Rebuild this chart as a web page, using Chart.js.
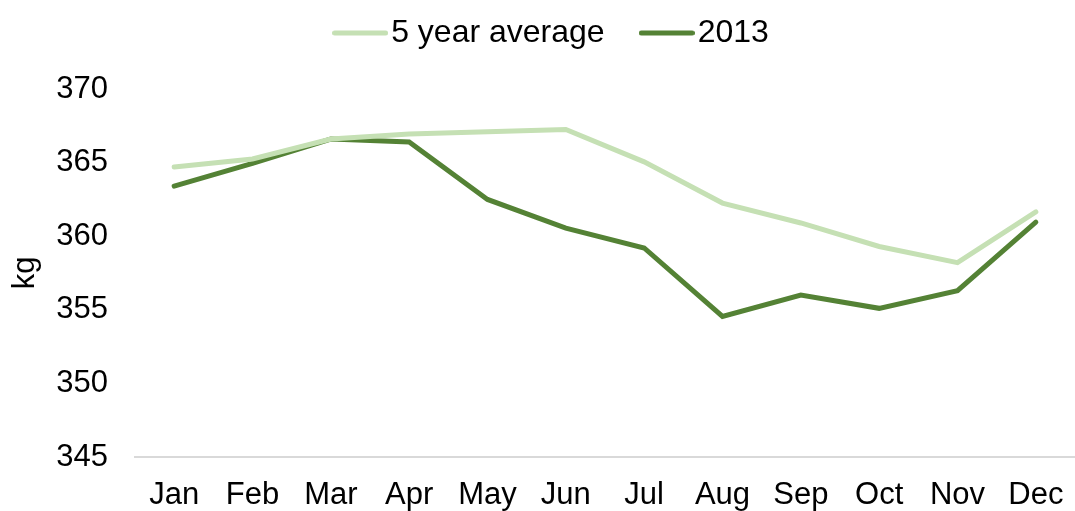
<!DOCTYPE html>
<html>
<head>
<meta charset="utf-8">
<script src="https://cdn.jsdelivr.net/npm/chart.js@4/dist/chart.umd.min.js"></script>
<style>
  html, body { margin: 0; padding: 0; background: #fff; }
  #wrap { width: 1075px; height: 511px; }
</style>
</head>
<body>
<div id="wrap"><canvas id="myChart"></canvas></div>
<script>
// values
const months = ['Jan', 'Feb', 'Mar', 'Apr', 'May', 'Jun', 'Jul', 'Aug', 'Sep', 'Oct', 'Nov', 'Dec'];
const fiveYearAvg = [364.7, 365.25, 366.6, 366.95, 367.1, 367.25, 365.05, 362.25, 360.9, 359.3, 358.2, 361.65];
const year2013 = [363.4, 364.95, 366.6, 366.4, 362.5, 360.55, 359.2, 354.55, 356.0, 355.1, 356.3, 360.95];
const yMin = 345, yMax = 370, yStep = 5;

const font = "'Liberation Sans', Arial, sans-serif";

// legend swatch: short thick line with round ends
function swatch(color) {
  const c = document.createElement('canvas');
  c.width = 56; c.height = 6;
  const g = c.getContext('2d');
  g.strokeStyle = color;
  g.lineWidth = 5;
  g.lineCap = 'round';
  g.beginPath();
  g.moveTo(2.5, 3);
  g.lineTo(53.5, 3);
  g.stroke();
  return c;
}

// push plot area down below the legend
const legendGap = {
  id: 'legendGap',
  beforeInit(chart) {
    const fit = chart.legend.fit;
    chart.legend.fit = function () {
      fit.call(this);
      this.height += 30;
    };
  }
};

const ctx = document.getElementById('myChart');

new Chart(ctx, {
  type: 'line',
  data: {
    labels: months,
    datasets: [{
      label: '5 year average',
      data: fiveYearAvg,
      borderColor: '#c5e0b4',
      backgroundColor: '#c5e0b4',
      borderWidth: 5,
      borderCapStyle: 'round',
      pointRadius: 0,
      pointStyle: swatch('#c5e0b4'),
      tension: 0
    }, {
      label: '2013',
      data: year2013,
      borderColor: '#548235',
      backgroundColor: '#548235',
      borderWidth: 5,
      borderCapStyle: 'round',
      pointRadius: 0,
      pointStyle: swatch('#548235'),
      tension: 0
    }]
  },
  plugins: [legendGap],
  options: {
    responsive: true,
    maintainAspectRatio: false,
    animation: false,
    layout: { padding: { top: -30, right: 0, left: 39, bottom: 0 } },
    plugins: {
      legend: {
        position: 'top',
        labels: {
          usePointStyle: true,
          pointStyleWidth: 30,
          color: '#000',
          padding: 47,
          font: { family: font, size: 32 }
        }
      },
      tooltip: { enabled: false }
    },
    scales: {
      x: {
        offset: true,
        grid: { display: false, drawTicks: false },
        border: { display: true, color: '#d9d9d9', width: 2 },
        ticks: { color: '#000', padding: 20, font: { family: font, size: 31 }, maxRotation: 0 },
        afterFit(scale) {
          scale.paddingLeft = 0;
          scale.paddingRight = 0;
          scale.height = 54;
        }
      },
      y: {
        min: yMin,
        max: yMax,
        grid: { display: false, drawTicks: false },
        border: { display: false },
        ticks: { stepSize: yStep, color: '#000', padding: 27, font: { family: font, size: 31 } },
        title: { display: true, text: 'kg', color: '#000', font: { family: font, size: 31 }, padding: { top: -32.6, bottom: 0 } },
        afterFit(scale) {
          scale.width = 96;
        }
      }
    }
  }
});
</script>
</body>
</html>
